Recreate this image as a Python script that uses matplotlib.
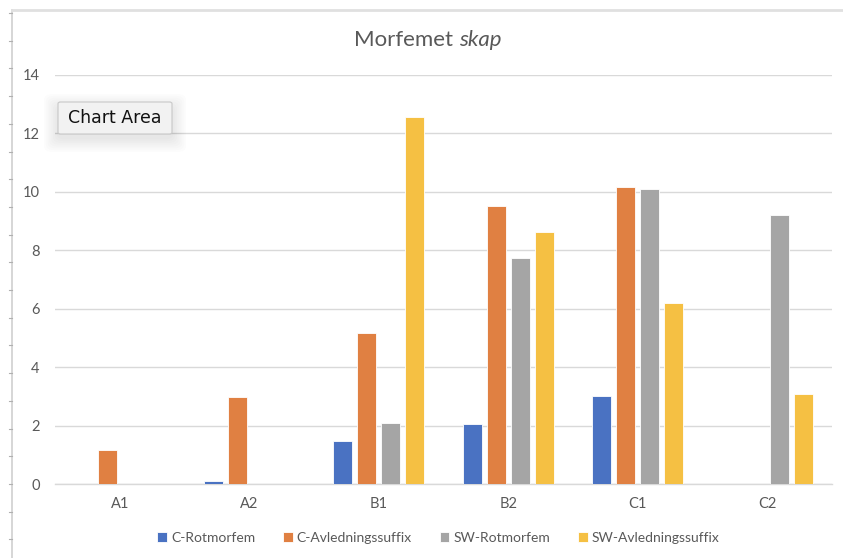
import numpy as np
import matplotlib
matplotlib.use("Agg")
import matplotlib.pyplot as plt
from matplotlib.lines import Line2D
from matplotlib.patches import FancyBboxPatch

plt.rcParams['font.family'] = ['Lato', 'DejaVu Sans']

# data
levels = ['A1', 'A2', 'B1', 'B2', 'C1', 'C2']
c_rot = [0, 0.1, 1.48, 2.05, 3.0, 0]
c_avl = [1.16, 2.97, 5.17, 9.53, 10.17, 0]
sw_rot = [0, 0, 2.1, 7.75, 10.1, 9.2]
sw_avl = [0, 0, 12.57, 8.63, 6.2, 3.07]

series = ['C-Rotmorfem', 'C-Avledningssuffix', 'SW-Rotmorfem', 'SW-Avledningssuffix']
colors = ['#4A72C2', '#E08042', '#A5A5A5', '#F5C043']
values = [c_rot, c_avl, sw_rot, sw_avl]

fig = plt.figure(figsize=(8.43, 5.58), dpi=100)
ax = fig.add_axes([0.0652, 0.1326, 0.9218, 0.733])

x = np.arange(len(levels))
slot = 0.185
bw = 0.148
for k, (name, vals, col) in enumerate(zip(series, values, colors)):
    ax.bar(x + (k - 1.5) * slot, vals, width=bw, color=col, label=name,
           edgecolor='white', linewidth=0.6, zorder=3)

ax.set_xlim(-0.5, len(levels) - 0.5)
ax.set_ylim(0, 14)
ax.set_yticks(range(0, 15, 2))
ax.set_xticks(x)
ax.set_xticklabels(levels)
ax.tick_params(length=0, labelsize=10.5, colors='#595959')
ax.tick_params(axis='y', pad=11)
ax.tick_params(axis='x', pad=9)
ax.grid(axis='y', color='#D9D9D9', linewidth=1, zorder=0)
for s in ['top', 'right', 'left']:
    ax.spines[s].set_visible(False)
ax.spines['bottom'].set_color('#D9D9D9')
ax.spines['bottom'].set_linewidth(1)

fig.text(459 / 843, 1 - 40 / 558, 'Morfemet ', ha='right', va='center',
         fontsize=16, color='#595959')
fig.text(459 / 843, 1 - 40 / 558, 'skap', ha='left', va='center',
         fontsize=16, color='#595959', style='italic')

fig.legend(loc='center', bbox_to_anchor=(0.52, 1 - 538 / 558), ncol=4,
           frameon=False, fontsize=10, handlelength=0.7, handleheight=0.7,
           handletextpad=0.3, columnspacing=2.0, labelcolor='#595959')

# window frame: left and top border with ruler ticks
fig.add_artist(Line2D([12 / 843, 12 / 843], [0, 1 - 10 / 558],
                      transform=fig.transFigure, color='#D0D0D0', lw=1.2))
fig.add_artist(Line2D([12 / 843, 1], [1 - 10 / 558, 1 - 10 / 558],
                      transform=fig.transFigure, color='#E0E0E0', lw=2))
for yp in np.arange(13, 558, 27.7):
    fig.add_artist(Line2D([9 / 843, 12 / 843], [1 - yp / 558, 1 - yp / 558],
                          transform=fig.transFigure, color='#B0B0B0', lw=0.8))

# "Chart Area" tooltip with a soft shadow
for i in range(8):
    g = 14 - i * 1.8
    fig.add_artist(FancyBboxPatch(((58 - g) / 843, 1 - (138 + g) / 558),
                                  (114 + 2 * g) / 843, (30 + 2 * g) / 558,
                                  boxstyle='round,pad=0,rounding_size=0.01',
                                  transform=fig.transFigure, facecolor='black',
                                  edgecolor='none', alpha=0.012))
fig.add_artist(FancyBboxPatch((58 / 843, 1 - 134 / 558), 114 / 843, 32 / 558,
                              boxstyle='round,pad=0,rounding_size=0.003',
                              transform=fig.transFigure, facecolor='#F2F2F2',
                              edgecolor='#C8C8C8', lw=0.8))
fig.text(115 / 843, 1 - 118 / 558, 'Chart Area', ha='center', va='center',
         fontsize=12.5, color='#111111', family=['DejaVu Sans'])

fig.savefig('out.png', dpi=100)
